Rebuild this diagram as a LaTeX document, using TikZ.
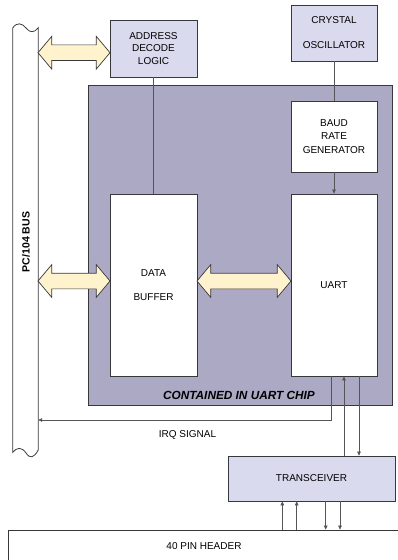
\documentclass[tikz,border=0pt]{standalone}
\usepackage{fontspec}
\setmainfont{Liberation Sans}
\usetikzlibrary{arrows.meta, shapes.arrows}

\definecolor{lavbox}{RGB}{218,218,238}
\definecolor{chipbg}{RGB}{172,169,197}
\definecolor{cream}{RGB}{255,243,206}
\definecolor{edge}{RGB}{55,55,60}

\tikzset{
  blk/.style={draw=edge, line width=0.8pt, inner sep=0pt, align=center},
  lavblk/.style={blk, fill=lavbox},
  whiteblk/.style={blk, fill=white},
  wire/.style={draw=edge!85, line width=0.6pt},
  sig/.style={wire, -{Triangle[length=4pt, width=3.6pt]}},
  dblarrow/.style={double arrow, draw=edge, line width=0.7pt, fill=cream,
    inner sep=0pt, double arrow head extend=8.5pt,
    double arrow tip angle=100}
}

\begin{document}
\begin{tikzpicture}[x=1pt, y=-1pt, font=\fontsize{10}{12.5}\selectfont]
    \useasboundingbox (0,0) rectangle (398,560);
    \clip (0,0) rectangle (398,560);
    % PC/104 bus with torn ends
    \node[inner sep=0, minimum width=25pt, minimum height=424pt] (bus) at (25.5,240) {};
    \draw[edge, line width=0.8pt] (bus.north west)
        .. controls (17,22) and (22,23) .. (26,28)
        .. controls (30,33) and (34,33) .. (bus.north east)
        -- (bus.south east |- 0,450)
        .. controls (34,458) and (30,459) .. (26,453)
        .. controls (22,447) and (17,447) .. (bus.south west) -- cycle;
    \node[rotate=90, font=\fontsize{10.5}{12}\selectfont\bfseries] (buslbl) at (26,242) {PC/104 BUS};
    % chip area
    \node[blk, fill=chipbg, minimum width=304pt, minimum height=320pt] (chip) at (240,245) {};
    \node[font=\fontsize{11.8}{13}\selectfont\bfseries\itshape] (chiplbl) at (239,395) {CONTAINED IN UART CHIP};
    % blocks
    \node[lavblk, minimum width=87pt, minimum height=57pt] (addr) at (153.5,48.5) {ADDRESS\\DECODE\\LOGIC};
    \node[lavblk, minimum width=86pt, minimum height=56pt, align=center] (xtal) at (334,33)
        {CRYSTAL\\[12.5pt]OSCILLATOR};
    \node[whiteblk, minimum width=86pt, minimum height=71pt] (baud) at (334,136.5)
        {BAUD\\[0.8pt]RATE\\[0.8pt]GENERATOR};
    \node[whiteblk, minimum width=87pt, minimum height=182pt] (buf) at (153.5,285)
        {DATA\\[11.5pt]BUFFER};
    \node[whiteblk, minimum width=86pt, minimum height=182pt] (uart) at (334,285) {UART};
    \node[lavblk, minimum width=167pt, minimum height=45pt] (xcvr) at (311.5,478.5) {TRANSCEIVER};
    \node[whiteblk, minimum width=392pt, minimum height=32pt] (hdr) at (204,546) {40 PIN HEADER};
    % data paths
    \node[dblarrow, minimum height=72pt] (busaddr) at (74,52.7) {\rule{0pt}{15pt}};
    \node[dblarrow, minimum height=72pt] (busbuf) at (74,281) {\rule{0pt}{15pt}};
    \node[dblarrow, minimum height=94pt] (bufuart) at (244,281) {\rule{0pt}{15pt}};
    % control lines
    \draw[wire] (addr.south) -- (buf.north);
    \draw[wire] (xtal.south) -- (baud.north);
    \draw[sig] (baud.south) -- (uart.north);
    \draw[sig] ([xshift=-2.3pt]uart.south) |- (bus.east |- 0,420);
    \node (irq) at (187.5,435) {IRQ SIGNAL};
    \draw[sig] (xcvr.north -| 344,0) -- (uart.south -| 344,0);
    \draw[sig] (uart.south -| 359,0) -- (xcvr.north -| 359,0);
    \foreach \px in {282.3, 296.7}
        \draw[sig] (hdr.north -| \px,0) -- (xcvr.south -| \px,0);
    \foreach \px in {325.7, 340}
        \draw[sig] (xcvr.south -| \px,0) -- (hdr.north -| \px,0);
\end{tikzpicture}
\end{document}
